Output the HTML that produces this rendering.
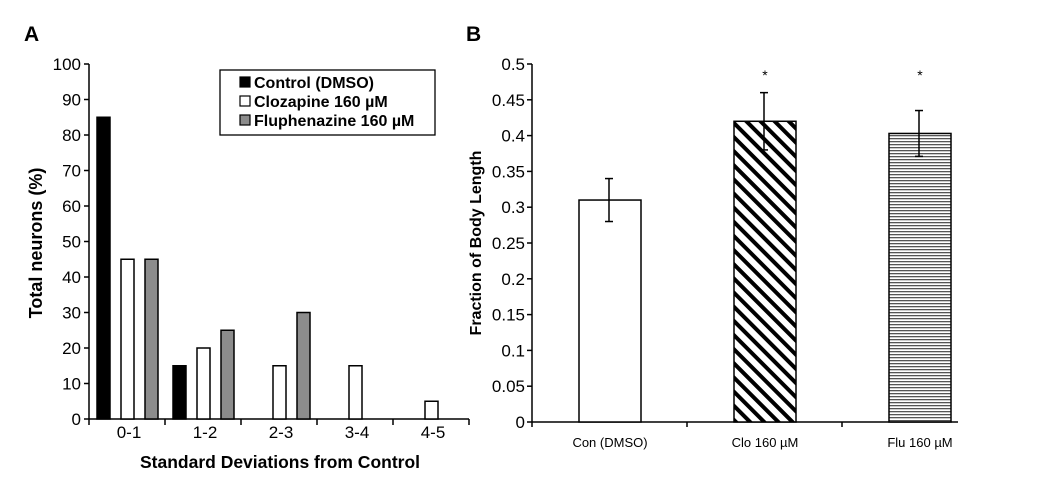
<!DOCTYPE html>
<html><head><meta charset="utf-8"><style>
body{margin:0;background:#fff;}
svg{display:block;font-family:"Liberation Sans",Arial,sans-serif;}
</style></head><body>
<svg id="chart" width="1050" height="502" viewBox="0 0 1050 502">
<defs>
<pattern id="diag" patternUnits="userSpaceOnUse" width="10" height="10" patternTransform="rotate(-45)">
<rect width="10" height="10" fill="#fff"/><rect x="0" y="0" width="4" height="10" fill="#000"/>
</pattern>
<pattern id="horiz" patternUnits="userSpaceOnUse" width="6" height="3">
<rect width="6" height="3" fill="#fff"/><rect width="6" height="1.3" fill="#555"/>
</pattern>
</defs>
<g id="panelA"></g>
<g id="panelB"></g>
</svg>
<script>
// Panel A data
const catsA = ["0-1","1-2","2-3","3-4","4-5"];
const controlA = [85,15,0,0,0];
const clozapineA = [45,20,15,15,5];
const fluphenazineA = [45,25,30,0,0];
const ticksA = [0,10,20,30,40,50,60,70,80,90,100];
// Panel B data
const catsB = ["Con (DMSO)","Clo 160 µM","Flu 160 µM"];
const valuesB = [0.31,0.42,0.403];
const errorsB = [0.03,0.04,0.032];
const sigB = [false,true,true];
const ticksB = ["0","0.05","0.1","0.15","0.2","0.25","0.3","0.35","0.4","0.45","0.5"];

const NS="http://www.w3.org/2000/svg";
function mk(tag,attrs,parent,text){const e=document.createElementNS(NS,tag);for(const k in attrs)e.setAttribute(k,attrs[k]);if(text!==undefined)e.textContent=text;parent.appendChild(e);return e;}

// ---- Panel A ----
const A=document.getElementById('panelA');
const ax0=89, ay0=419, ayTop=64, catW=76;
const yA=v=>ay0-(ay0-ayTop)*v/100;
const xA=i=>ax0+i*catW;
let t=mk('text',{x:24,y:41,'font-size':21,'font-weight':'bold'},A,'A');


let l=mk('line',{x1:ax0,y1:ayTop,x2:ax0,y2:ay0,stroke:'#000','stroke-width':1.5},A);


l=mk('line',{x1:ax0,y1:ay0,x2:xA(5),y2:ay0,stroke:'#000','stroke-width':1.5},A);


ticksA.forEach(v=>{
  mk('line',{x1:ax0-5,y1:yA(v),x2:ax0,y2:yA(v),stroke:'#000','stroke-width':1.5},A);
  const tx=mk('text',{x:ax0-8,y:yA(v)+6,'font-size':17,'text-anchor':'end'},A,String(v));
  
  
});
for(let i=0;i<=5;i++) mk('line',{x1:xA(i),y1:ay0,x2:xA(i),y2:ay0+6,stroke:'#000','stroke-width':1.5},A);
const seriesA=[[controlA,'#000','control'],[clozapineA,'#fff','clozapine'],[fluphenazineA,'#8c8c8c','fluphenazine']];
catsA.forEach((c,i)=>{
  seriesA.forEach((s,j)=>{
    const v=s[0][i]; if(v<=0) return;
    const r=mk('rect',{x:xA(i)+8+j*24,y:yA(v),width:13,height:ay0-yA(v),fill:s[1],stroke:'#000','stroke-width':1.5},A);
    
    
  });
  const tx=mk('text',{x:xA(i)+catW/2+2,y:438,'font-size':17,'text-anchor':'middle'},A,c);
  
  
});
t=mk('text',{x:280,y:468,'font-size':17.5,'font-weight':'bold','text-anchor':'middle'},A,'Standard Deviations from Control');


t=mk('text',{x:0,y:0,'font-size':18,'font-weight':'bold','text-anchor':'middle',transform:'translate(42,243) rotate(-90)'},A,'Total neurons (%)');


const lg=mk('g',{},A);


mk('rect',{x:220,y:70,width:215,height:65,fill:'#fff',stroke:'#000','stroke-width':1.3},lg);
[['Control (DMSO)','#000'],['Clozapine 160 µM','#fff'],['Fluphenazine 160 µM','#8c8c8c']].forEach((e,k)=>{
  const g=mk('g',{},lg);
  
  
  mk('rect',{x:240,y:77+k*19,width:10,height:10,fill:e[1],stroke:'#000','stroke-width':1.2},g);
  mk('text',{x:254,y:88+k*19,'font-size':16,'font-weight':'bold'},g,e[0]);
});

// ---- Panel B ----
const B=document.getElementById('panelB');
const bx0=532, by0=422, byTop=64;
const bxEnd=958;
const bw=155;
const yB=v=>by0-(by0-byTop)*v/0.5;
t=mk('text',{x:466,y:41,'font-size':21,'font-weight':'bold'},B,'B');


l=mk('line',{x1:bx0,y1:byTop,x2:bx0,y2:by0,stroke:'#000','stroke-width':1.5},B);


l=mk('line',{x1:bx0,y1:by0,x2:bxEnd,y2:by0,stroke:'#000','stroke-width':1.5},B);


ticksB.forEach(s=>{
  const v=parseFloat(s);
  mk('line',{x1:bx0-5,y1:yB(v),x2:bx0,y2:yB(v),stroke:'#000','stroke-width':1.5},B);
  const tx=mk('text',{x:bx0-7,y:yB(v)+6,'font-size':17,'text-anchor':'end'},B,s);
  
  
});
for(let i=0;i<3;i++) mk('line',{x1:bx0+i*bw,y1:by0,x2:bx0+i*bw,y2:by0+5,stroke:'#000','stroke-width':1.5},B);
const fills=['#fff','url(#diag)','url(#horiz)'];
catsB.forEach((c,i)=>{
  const cx=bx0+i*bw+78;
  const r=mk('rect',{x:cx-31,y:yB(valuesB[i]),width:62,height:by0-yB(valuesB[i]),fill:fills[i],stroke:'#000','stroke-width':1.5},B);
  
  
  const eg=mk('g',{stroke:'#000','stroke-width':1.5},B);
  
  
  const hi=yB(valuesB[i]+errorsB[i]), lo=yB(valuesB[i]-errorsB[i]);
  mk('line',{x1:cx-1,y1:hi,x2:cx-1,y2:lo},eg);
  mk('line',{x1:cx-5,y1:hi,x2:cx+3,y2:hi},eg);
  mk('line',{x1:cx-5,y1:lo,x2:cx+3,y2:lo},eg);
  if(sigB[i]){
    const st=mk('text',{x:cx,y:80,'font-size':14,'text-anchor':'middle'},B,'*');
    
    
  }
  const tx=mk('text',{x:cx,y:447,'font-size':13,'text-anchor':'middle'},B,c);
  
  
});
t=mk('text',{x:0,y:0,'font-size':16,'font-weight':'bold','text-anchor':'middle',transform:'translate(481,243) rotate(-90)'},B,'Fraction of Body Length');


</script>
</body></html>
